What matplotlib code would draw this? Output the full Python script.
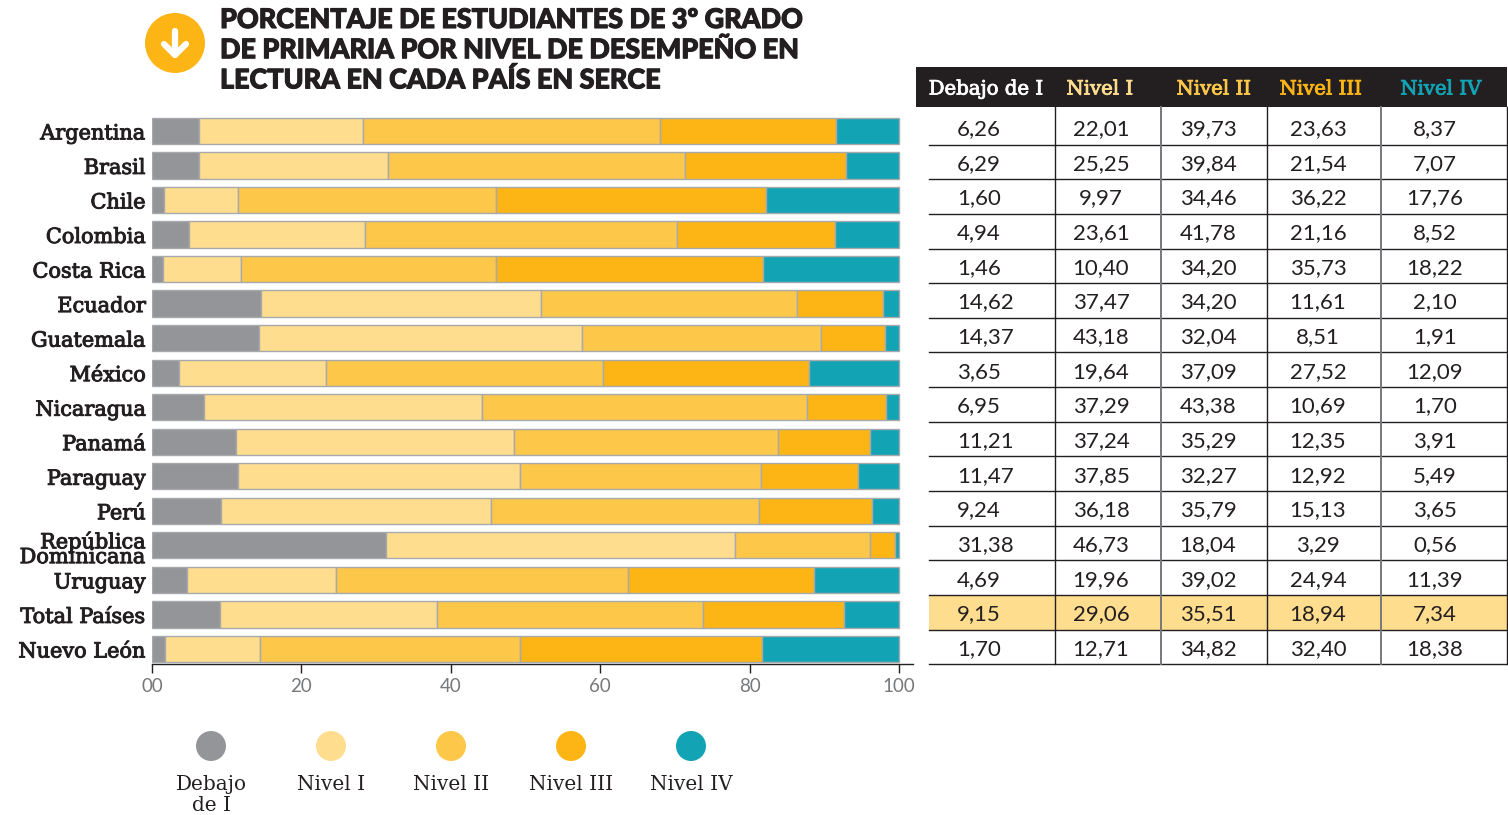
import numpy as np
import matplotlib.pyplot as plt
import matplotlib.patheffects as pe
from matplotlib.patches import Circle, Rectangle
from matplotlib.transforms import ScaledTranslation

W, H = 1508, 815

paises = ["Argentina", "Brasil", "Chile", "Colombia", "Costa Rica", "Ecuador", "Guatemala",
          "México", "Nicaragua", "Panamá", "Paraguay", "Perú", "República\nDominicana",
          "Uruguay", "Total Países", "Nuevo León"]
debajo = [6.26, 6.29, 1.60, 4.94, 1.46, 14.62, 14.37, 3.65, 6.95, 11.21, 11.47, 9.24, 31.38, 4.69, 9.15, 1.70]
nivel1 = [22.01, 25.25, 9.97, 23.61, 10.40, 37.47, 43.18, 19.64, 37.29, 37.24, 37.85, 36.18, 46.73, 19.96, 29.06, 12.71]
nivel2 = [39.73, 39.84, 34.46, 41.78, 34.20, 34.20, 32.04, 37.09, 43.38, 35.29, 32.27, 35.79, 18.04, 39.02, 35.51, 34.82]
nivel3 = [23.63, 21.54, 36.22, 21.16, 35.73, 11.61, 8.51, 27.52, 10.69, 12.35, 12.92, 15.13, 3.29, 24.94, 18.94, 32.40]
nivel4 = [8.37, 7.07, 17.76, 8.52, 18.22, 2.10, 1.91, 12.09, 1.70, 3.91, 5.49, 3.65, 0.56, 11.39, 7.34, 18.38]

series = [debajo, nivel1, nivel2, nivel3, nivel4]
nombres = ["Debajo de I", "Nivel I", "Nivel II", "Nivel III", "Nivel IV"]
leyenda = ["Debajo\nde I", "Nivel I", "Nivel II", "Nivel III", "Nivel IV"]
colores = ["#939598", "#FFDD8F", "#FDC84A", "#FDB515", "#12A3B4"]
x_ticks = [0, 20, 40, 60, 80, 100]
x_labels = ["00", "20", "40", "60", "80", "100"]
titulo = ["PORCENTAJE DE ESTUDIANTES DE 3º GRADO",
          "DE PRIMARIA POR NIVEL DE DESEMPEÑO EN",
          "LECTURA EN CADA PAÍS EN SERCE"]

SERIF = "DejaVu Serif"
SANS = "Lato"
INK = "#231F20"


def grueso(w, color):
    """Thicken a text with a stroke, the fonts here are lighter than the original."""
    return [pe.withStroke(linewidth=w, foreground=color)]


fig = plt.figure(figsize=(W / 100, H / 100), dpi=100)

# ----------------------------
# Stacked bars
# ----------------------------
ax = fig.add_axes([152 / W, 1 - 664 / H, (913 - 152) / W, (664 - 115) / H])
y = np.arange(len(paises))
left = np.zeros(len(paises))
for vals, c in zip(series, colores):
    ax.barh(y, vals, left=left, height=0.76, color=c, edgecolor="#A7A9AC", linewidth=1)
    left += np.array(vals)

ax.set_xlim(0, 761 / 7.47)
ax.set_ylim(15.436, -0.46)
for s in ["top", "left", "right"]:
    ax.spines[s].set_visible(False)
ax.spines["bottom"].set_color(INK)
ax.spines["bottom"].set_linewidth(1)
ax.set_xticks(x_ticks)
ax.set_xticklabels(x_labels, family=SANS, fontsize=13.5, color="#77787B")
ax.tick_params(axis="x", length=6.5, width=1, color=INK, pad=3.7)
ax.set_yticks(y)
ax.set_yticklabels(paises, family=SERIF, fontsize=15, color=INK, linespacing=0.72)
ax.tick_params(axis="y", length=0, pad=4.5)
for lab in ax.get_yticklabels():
    lab.set_path_effects(grueso(0.7, INK))
    bajar = 4 if "\n" in lab.get_text() else 1
    lab.set_transform(lab.get_transform() + ScaledTranslation(0, -bajar / 100, fig.dpi_scale_trans))

# ----------------------------
# Overlay in pixel coordinates: title, table, legend
# ----------------------------
ov = fig.add_axes([0, 0, 1, 1], zorder=3)
ov.set_xlim(0, W)
ov.set_ylim(H, 0)
ov.axis("off")
ov.patch.set_alpha(0)

ov.add_patch(Circle((175, 43), 30, color="#FDB515", lw=0))
ov.plot([175, 175], [31, 54], color="white", lw=4.5, solid_capstyle="round")
ov.plot([164, 175, 186], [44, 55, 44], color="white", lw=4.5,
        solid_capstyle="round", solid_joinstyle="round")

for i, linea in enumerate(titulo):
    ov.text(220, 28 + 30.2 * i, linea, family=SANS, weight="black", fontsize=19.4,
            color=INK, va="baseline", ha="left", path_effects=grueso(0.8, INK))

# table
col_x = [1055, 1161, 1267, 1381]
col_c = [957, 1101, 1208, 1318, 1435]
col_ha = ["left", "center", "center", "center", "center"]
head_c = [986, 1100, 1214, 1321, 1441]
head_col = ["white", "#FFDD8F", "#FDC84A", "#FDB515", "#12A3B4"]
row_h = 34.65
y0 = 109.9

ov.add_patch(Rectangle((916, 67), 591, 40, color=INK, lw=0))
for c, n, col in zip(head_c, nombres, head_col):
    ov.text(c, 89, n, family=SERIF, fontsize=14.2, color=col, ha="center", va="center",
            path_effects=grueso(0.6, col))

ov.add_patch(Rectangle((929, y0 + 14 * row_h), 578, row_h, color="#FFDD8F", lw=0))
for i in range(len(paises)):
    yl = y0 + (i + 1) * row_h
    ov.plot([929, 1507], [yl, yl], color=INK, lw=1)
    for c, ha, s in zip(col_c, col_ha, series):
        ov.text(c, yl - row_h / 2 + 2, f"{s[i]:.2f}".replace(".", ","), family=SANS,
                fontsize=16, color=INK, ha=ha, va="center")
for cx, col, lw in zip(col_x, [INK, "#77787B", INK, "#77787B"], [1, 1.4, 1, 1.4]):
    ov.plot([cx, cx], [107, y0 + 16 * row_h], color=col, lw=lw)
ov.plot([1507, 1507], [107, y0 + 16 * row_h], color=INK, lw=1)

# legend
ley_x = [211, 331, 451, 571, 691]
for lx, t, c in zip(ley_x, leyenda, colores):
    ov.add_patch(Circle((lx, 746), 15, color=c, lw=0))
    ov.text(lx, 775, t, family=SERIF, fontsize=14.4, color=INK, ha="center", va="top", linespacing=1.13)

fig.savefig("out.png", dpi=100)
